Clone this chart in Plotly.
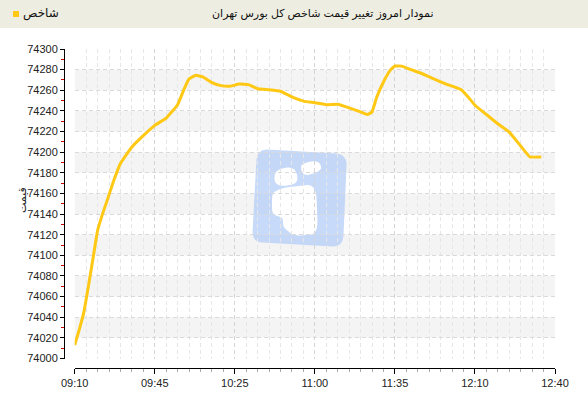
import plotly.graph_objects as go

# ---------------- data ----------------
times = ["09:10", "09:12", "09:14", "09:16", "09:18", "09:20", "09:22", "09:24",
         "09:27", "09:30", "09:35", "09:40", "09:45", "09:50", "09:55", "09:58",
         "10:00", "10:03", "10:06", "10:10", "10:14", "10:18", "10:22", "10:26",
         "10:30", "10:35", "10:40", "10:45", "10:50", "10:55", "11:00", "11:05",
         "11:10", "11:15", "11:18", "11:20", "11:22", "11:25", "11:28", "11:30",
         "11:33", "11:37", "11:42", "11:47", "11:53", "11:59", "12:02", "12:05",
         "12:10", "12:15", "12:20", "12:25", "12:29", "12:34"]
values = [74013, 74028, 74045, 74070, 74097, 74124, 74139, 74152,
          74172, 74189, 74205, 74216, 74226, 74233, 74246, 74262,
          74271, 74274.5, 74273, 74267.5, 74264.5, 74264, 74266, 74265.5,
          74261.5, 74260.5, 74259, 74253.5, 74249.5, 74248, 74246, 74246.5,
          74243, 74239, 74236.5, 74239, 74253, 74268, 74279.5, 74283.5,
          74283.4, 74280, 74276, 74271, 74265.5, 74260.5, 74253.5, 74245.5,
          74236.5, 74227.5, 74219.5, 74206, 74195.5, 74195.3]
tick_labels = ["09:10", "09:45", "10:25", "11:00", "11:35", "12:10", "12:40"]
title_text = "نمودار امروز تغییر قیمت شاخص کل بورس تهران"
series_name = "شاخص"
y_title = "قیمت"

start_min = 9 * 60 + 10


def to_min(t):
    h, m = t.split(":")
    return int(h) * 60 + int(m) - start_min


x_vals = [to_min(t) for t in times]
tick_pos = [i * 35 for i in range(len(tick_labels))]

# ---------------- geometry ----------------
W, H = 588, 393
L, R, T, B = 64, 33, 49, 25
PW, PH = W - L - R, H - T - B
x_dom0 = (74.7 - L) / PW
y_dom0 = (368 - 358.5) / PH


def px(xp):
    return (xp - L) / PW


def py(yp):
    return (H - B - yp) / PH


def dx(xp):
    return (xp - 74.7) / (W - R - 74.7)


def dy(yp):
    return (358.5 - yp) / (358.5 - 49)


LINE = "#FFC814"
FONT = "Liberation Sans, DejaVu Sans, Arial, sans-serif"

fig = go.Figure()
fig.add_trace(go.Scatter(
    x=x_vals, y=values, mode="lines", name=series_name,
    line=dict(color=LINE, width=3, shape="spline", smoothing=0.3),
    showlegend=False, hoverinfo="x+y"))

shapes = []
# alternating bands
for lo in range(74020, 74300, 40):
    shapes.append(dict(type="rect", xref="x domain", yref="y", x0=0, x1=1,
                       y0=lo, y1=lo + 20, fillcolor="#f4f4f4",
                       line=dict(width=0), layer="below"))


def rounded(pts, r=0.3):
    # rounded polygon using quadratic curves at each corner
    n = len(pts)
    segs = []
    for i in range(n):
        p0 = pts[i - 1]
        p1 = pts[i]
        p2 = pts[(i + 1) % n]
        a = (p1[0] + (p0[0] - p1[0]) * r, p1[1] + (p0[1] - p1[1]) * r)
        b = (p1[0] + (p2[0] - p1[0]) * r, p1[1] + (p2[1] - p1[1]) * r)
        segs.append((a, p1, b))
    s = "M %f,%f " % (dx(segs[0][0][0]), dy(segs[0][0][1]))
    for i, (a, c, b) in enumerate(segs):
        if i > 0:
            s += "L %f,%f " % (dx(a[0]), dy(a[1]))
        s += "Q %f,%f %f,%f " % (dx(c[0]), dy(c[1]), dx(b[0]), dy(b[1]))
    return s + "Z"


# watermark logo
logo = [(257, 149), (347, 154), (343, 247), (252, 242)]
shapes.append(dict(type="path", xref="x domain", yref="y domain",
                   path=rounded(logo, 0.12), fillcolor="rgba(178,204,246,0.72)",
                   line=dict(width=0), layer="below"))
shapes.append(dict(type="path", xref="x domain", yref="y domain",
                   path=rounded([(299, 164), (318, 160), (323, 170), (304, 177)], 0.45),
                   fillcolor="white", line=dict(width=0), layer="below"))
shapes.append(dict(type="path", xref="x domain", yref="y domain",
                   path=rounded([(274, 170), (295, 166), (299, 184), (275, 187)], 0.45),
                   fillcolor="white", line=dict(width=0), layer="below"))
body = [(282, 188), (316, 184), (318, 234), (294, 236), (283, 227),
        (283, 218), (272, 214), (272, 193)]
shapes.append(dict(type="path", xref="x domain", yref="y domain",
                   path=rounded(body, 0.3), fillcolor="white",
                   line=dict(width=0), layer="below"))

# header bar
shapes.append(dict(type="rect", xref="paper", yref="paper",
                   x0=px(0), x1=px(W), y0=py(28), y1=py(0),
                   fillcolor="#EDEDE1", line=dict(width=0), layer="below"))
# legend square
shapes.append(dict(type="rect", xref="paper", yref="paper",
                   x0=px(13), x1=px(19), y0=py(17), y1=py(11),
                   fillcolor=LINE, line=dict(width=0)))

annotations = [
    dict(text=series_name, xref="paper", yref="paper", x=px(21), y=py(13.5),
         xanchor="left", yanchor="middle", showarrow=False,
         font=dict(family=FONT, size=12, color="#111")),
    dict(text=title_text, xref="paper", yref="paper", x=px(322), y=py(14),
         xanchor="center", yanchor="middle", showarrow=False,
         font=dict(family=FONT, size=11, color="#111")),
    dict(text=y_title, xref="paper", yref="paper", x=px(22), y=py(200),
         xanchor="center", yanchor="middle", showarrow=False, textangle=-90,
         font=dict(family=FONT, size=11, color="#222")),
]

fig.update_layout(
    width=W, height=H, autosize=False,
    margin=dict(l=L, r=R, t=T, b=B, pad=0, autoexpand=False),
    paper_bgcolor="white", plot_bgcolor="white",
    font=dict(family=FONT, size=11, color="#222"),
    shapes=shapes, annotations=annotations, showlegend=False,
    xaxis=dict(
        domain=[x_dom0, 1], anchor="free", position=0, automargin=False,
        range=[0, 210], tickmode="array", tickvals=tick_pos, ticktext=tick_labels,
        showline=True, linecolor="#000", linewidth=1,
        ticks="outside", ticklen=5, tickcolor="#000", tickwidth=1,
        showgrid=True, gridcolor="#d4d4d4", griddash="4px,3px", gridwidth=1,
        zeroline=False, tickfont=dict(size=11, color="#222"),
        minor=dict(tickmode="linear", tick0=0, dtick=5, ticks="outside",
                   ticklen=3, tickcolor="#aaa", showgrid=True,
                   gridcolor="#e6e6e6", griddash="4px,3px", gridwidth=1),
        fixedrange=True),
    yaxis=dict(
        domain=[y_dom0, 1], anchor="free", position=0, automargin=False,
        range=[74000, 74300], tickmode="linear", tick0=74000, dtick=20,
        showline=True, linecolor="#000", linewidth=1,
        ticks="outside", ticklen=4, tickcolor="#000", tickwidth=1,
        showgrid=True, gridcolor="#dadada", griddash="4px,3px", gridwidth=1,
        zeroline=False, tickfont=dict(size=11, color="#222"),
        tickformat="d",
        minor=dict(tickmode="linear", tick0=74000, dtick=10, ticks="outside",
                   ticklen=3, tickcolor="#cc0000", showgrid=False),
        fixedrange=True),
)

fig.write_html("out.html")
